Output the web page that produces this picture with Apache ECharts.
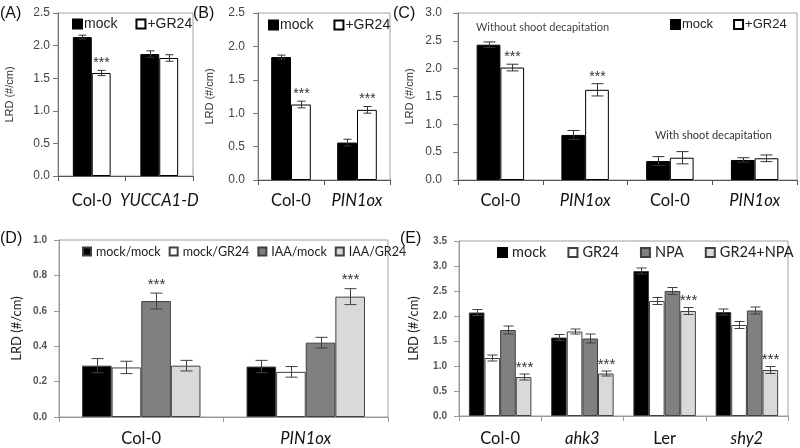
<!DOCTYPE html>
<html><head><meta charset="utf-8">
<script src="https://cdn.jsdelivr.net/npm/echarts@6/dist/echarts.min.js"></script>
<style>html,body{margin:0;padding:0;background:#fff}#c{width:800px;height:448px}</style>
</head><body><div id="c"></div>
<script>
// ---------- Panel A ----------
const catsA = ['Col-0', 'YUCCA1-D'];
const italicA = [false, true];
const mockA = [2.13, 1.87];
const mockErrA = [0.03, 0.05];
const gr24A = [1.58, 1.81];
const gr24ErrA = [0.04, 0.05];
const gr24SigA = ['***', ''];
const ticksA = {min: 0, max: 2.5, interval: 0.5};

// ---------- Panel B ----------
const catsB = ['Col-0', 'PIN1ox'];
const italicB = [false, true];
const mockB = [1.84, 0.56];
const mockErrB = [0.03, 0.05];
const gr24B = [1.13, 1.05];
const gr24ErrB = [0.05, 0.05];
const gr24SigB = ['***', '***'];
const ticksB = {min: 0, max: 2.5, interval: 0.5};

// ---------- Panel C ----------
const catsC = ['Col-0', 'PIN1ox', 'Col-0', 'PIN1ox'];
const italicC = [false, true, false, true];
const mockC = [2.43, 0.81, 0.34, 0.36];
const mockErrC = [0.05, 0.08, 0.08, 0.04];
const gr24C = [2.02, 1.62, 0.40, 0.39];
const gr24ErrC = [0.06, 0.11, 0.11, 0.06];
const gr24SigC = ['***', '***', '', ''];
const ticksC = {min: 0, max: 3.0, interval: 0.5};
const noteC1 = 'Without shoot decapitation';
const noteC2 = 'With shoot decapitation';

// ---------- Panel D ----------
const catsD = ['Col-0', 'PIN1ox'];
const italicD = [false, true];
const mmD = [0.29, 0.285];
const mmErrD = [0.04, 0.035];
const mgD = [0.28, 0.255];
const mgErrD = [0.035, 0.03];
const imD = [0.655, 0.42];
const imErrD = [0.045, 0.03];
const igD = [0.29, 0.68];
const igErrD = [0.03, 0.045];
const imSigD = ['***', ''];
const igSigD = ['', '***'];
const ticksD = {min: 0, max: 1.0, interval: 0.2};

// ---------- Panel E ----------
const catsE = ['Col-0', 'ahk3', 'Ler', 'shy2'];
const italicE = [false, true, false, true];
const mockE = [2.07, 1.57, 2.90, 2.08];
const mockErrE = [0.06, 0.06, 0.06, 0.06];
const gr24E = [1.16, 1.69, 2.30, 1.82];
const gr24ErrE = [0.06, 0.05, 0.07, 0.07];
const npaE = [1.72, 1.55, 2.50, 2.11];
const npaErrE = [0.08, 0.09, 0.07, 0.07];
const gnE = [0.78, 0.85, 2.10, 0.92];
const gnErrE = [0.06, 0.05, 0.07, 0.07];
const gnSigE = ['***', '***', '***', '***'];
const ticksE = {min: 0, max: 3.5, interval: 0.5};

const LAT = 'Lato, "Open Sans", sans-serif';
const ARI = '"Liberation Sans", Arial, sans-serif';

function errSeries(gi, vals, errs, sigs, idx, n, frac, opt) {
  return {
    type: 'custom', xAxisIndex: gi, yAxisIndex: gi, z: 10, silent: true,
    data: vals.map((v, i) => [i, v, errs[i]]),
    renderItem: function (params, api) {
      const ci = api.value(0), v = api.value(1), e = api.value(2);
      const band = api.size([1, 0])[0];
      const w = band * frac;
      const off = (idx - (n - 1) / 2) * w;
      const top = api.coord([ci, v + e]);
      const bot = api.coord([ci, v - e]);
      const x = Math.round(top[0] + off) + 0.5;
      const st = {stroke: opt.color, lineWidth: 1};
      const ch = [
        {type: 'line', shape: {x1: x, y1: top[1], x2: x, y2: bot[1]}, style: st},
        {type: 'line', shape: {x1: x - opt.cap, y1: top[1], x2: x + opt.cap, y2: top[1]}, style: st},
        {type: 'line', shape: {x1: x - opt.cap, y1: bot[1], x2: x + opt.cap, y2: bot[1]}, style: st}
      ];
      const s = sigs ? sigs[params.dataIndex] : '';
      if (s) ch.push({type: 'text', style: {text: s, x: x, y: top[1] - opt.sigGap, align: 'center', verticalAlign: 'bottom', fill: opt.sigColor, font: opt.sigFont}});
      return {type: 'group', children: ch};
    }
  };
}

function barS(gi, name, data, width, color, border) {
  return {type: 'bar', name: name, xAxisIndex: gi, yAxisIndex: gi, data: data, barWidth: width, barGap: '0%',
    itemStyle: {color: color, borderColor: border, borderWidth: 1}, silent: true};
}

function xAx(gi, cats, ital, margin, lineColor) {
  return {type: 'category', gridIndex: gi, data: cats,
    axisLine: {show: true, lineStyle: {color: lineColor, width: 1}},
    axisTick: {show: true, length: 5, lineStyle: {color: lineColor}},
    axisLabel: {margin: margin, interval: 0, formatter: (v, i) => (ital[i] ? '{i|' + v + '}' : '{n|' + v + '}'),
      rich: {n: {fontFamily: LAT, fontSize: 16.5, color: '#111'}, i: {fontFamily: LAT, fontSize: 16.5, fontStyle: 'italic', color: '#111'}}}};
}

function yAx(gi, t, margin, lbl, nameGap, nameStyle, lineColor) {
  return {type: 'value', gridIndex: gi, min: t.min, max: t.max, interval: t.interval,
    axisLine: {show: true, lineStyle: {color: lineColor}},
    axisTick: {show: true, length: 5, lineStyle: {color: lineColor}},
    splitLine: {show: false},
    axisLabel: Object.assign({margin: margin, formatter: v => v.toFixed(1)}, lbl),
    name: 'LRD (#/cm)', nameLocation: 'middle', nameGap: nameGap, nameTextStyle: nameStyle};
}

const lblTop = {fontFamily: ARI, fontSize: 12, color: '#444'};
const lblBot = {fontFamily: ARI, fontSize: 10, fontWeight: 'bold', color: '#555'};
const nmTop = {fontFamily: ARI, fontSize: 11, color: '#333'};
const nmBot = {fontFamily: LAT, fontSize: 13, color: '#222'};

const errTop = {color: '#333', cap: 4, sigGap: 0, sigColor: '#333', sigFont: '14px ' + ARI};
const errTopC = Object.assign({}, errTop, {cap: 6});
const errBot = {color: '#404040', cap: 6, sigGap: 1, sigColor: '#333', sigFont: '15px ' + ARI};
const errBotE = Object.assign({}, errBot, {cap: 5, sigGap: -1});

function legTop(left, top, gap, size) {
  return {left: left, top: top, padding: 0, itemGap: gap, itemWidth: 9, itemHeight: 9, icon: 'rect',
    selectedMode: false, data: ['mock', '+GR24'],
    textStyle: {fontFamily: ARI, fontSize: size, color: '#222', padding: [0, 0, 0, -3]}};
}

const grids = [
  {left: 58, top: 13, width: 135, height: 163},
  {left: 258, top: 13, width: 132, height: 167},
  {left: 458, top: 13, width: 339, height: 167},
  {left: 59, top: 240, width: 329, height: 177},
  {left: 459, top: 241, width: 329, height: 175}
].map(g => Object.assign({show: true, borderColor: '#a0a0a0', borderWidth: 1, backgroundColor: 'transparent'}, g));

const fA = 0.28, fB = 0.30, fC = 0.28, fD = 0.18, fE = 0.19;

const option = {
  animation: false,
  backgroundColor: '#fff',
  grid: grids,
  xAxis: [
    xAx(0, catsA, italicA, 16, '#555'),
    xAx(1, catsB, italicB, 12, '#555'),
    xAx(2, catsC, italicC, 12, '#555'),
    xAx(3, catsD, italicD, 13, '#999'),
    xAx(4, catsE, italicE, 14, '#999')
  ],
  yAxis: [
    yAx(0, ticksA, 8, lblTop, 43, nmTop, '#777'),
    yAx(1, ticksB, 13, lblTop, 43, nmTop, '#777'),
    yAx(2, ticksC, 16, lblTop, 43, nmTop, '#777'),
    yAx(3, ticksD, 12, lblBot, 36, nmBot, '#999'),
    yAx(4, ticksE, 12, lblBot, 39, nmBot, '#999')
  ],
  legend: [
    legTop(72, 17, 18, 14),
    legTop(268, 18, 20, 14),
    legTop(670, 18, 20, 13),
    {left: 82, top: 245, padding: 0, itemGap: 8, itemWidth: 8, itemHeight: 8, icon: 'rect', selectedMode: false,
      data: ['mock/mock', 'mock/GR24', 'IAA/mock', 'IAA/GR24'],
      textStyle: {fontFamily: LAT, fontSize: 12.5, color: '#222'}},
    {left: 497, top: 245, padding: 0, itemGap: 21, itemWidth: 9, itemHeight: 9, icon: 'rect', selectedMode: false,
      data: ['mock', 'GR24', 'NPA', 'GR24+NPA'],
      textStyle: {fontFamily: LAT, fontSize: 14.5, color: '#222'}}
  ],
  graphic: [
    {type: 'text', left: 0, top: 6, style: {text: '(A)', font: '16px ' + ARI, fill: '#111'}},
    {type: 'text', left: 193, top: 6, style: {text: '(B)', font: '16px ' + ARI, fill: '#111'}},
    {type: 'text', left: 393, top: 6, style: {text: '(C)', font: '16px ' + ARI, fill: '#111'}},
    {type: 'text', left: 0, top: 231, style: {text: '(D)', font: '16px ' + ARI, fill: '#111'}},
    {type: 'text', left: 400, top: 231, style: {text: '(E)', font: '16px ' + ARI, fill: '#111'}},
    {type: 'text', left: 476, top: 22, style: {text: noteC1, font: '11px ' + LAT, fill: '#444'}},
    {type: 'text', left: 655, top: 130, style: {text: noteC2, font: '11px ' + LAT, fill: '#333'}}
  ],
  series: [
    barS(0, 'mock', mockA, '28%', '#000', '#000'),
    barS(0, '+GR24', gr24A, '28%', '#fff', '#000'),
    errSeries(0, mockA, mockErrA, null, 0, 2, fA, errTop),
    errSeries(0, gr24A, gr24ErrA, gr24SigA, 1, 2, fA, errTop),

    barS(1, 'mock', mockB, '30%', '#000', '#000'),
    barS(1, '+GR24', gr24B, '30%', '#fff', '#000'),
    errSeries(1, mockB, mockErrB, null, 0, 2, fB, errTop),
    errSeries(1, gr24B, gr24ErrB, gr24SigB, 1, 2, fB, errTop),

    barS(2, 'mock', mockC, '28%', '#000', '#000'),
    barS(2, '+GR24', gr24C, '28%', '#fff', '#000'),
    errSeries(2, mockC, mockErrC, null, 0, 2, fC, errTopC),
    errSeries(2, gr24C, gr24ErrC, gr24SigC, 1, 2, fC, errTopC),

    barS(3, 'mock/mock', mmD, '18%', '#000', '#404040'),
    barS(3, 'mock/GR24', mgD, '18%', '#fff', '#404040'),
    barS(3, 'IAA/mock', imD, '18%', '#808080', '#404040'),
    barS(3, 'IAA/GR24', igD, '18%', '#d9d9d9', '#404040'),
    errSeries(3, mmD, mmErrD, null, 0, 4, fD, errBot),
    errSeries(3, mgD, mgErrD, null, 1, 4, fD, errBot),
    errSeries(3, imD, imErrD, imSigD, 2, 4, fD, errBot),
    errSeries(3, igD, igErrD, igSigD, 3, 4, fD, errBot),

    barS(4, 'mock', mockE, '19%', '#000', '#404040'),
    barS(4, 'GR24', gr24E, '19%', '#fff', '#404040'),
    barS(4, 'NPA', npaE, '19%', '#808080', '#404040'),
    barS(4, 'GR24+NPA', gnE, '19%', '#d9d9d9', '#404040'),
    errSeries(4, mockE, mockErrE, null, 0, 4, fE, errBotE),
    errSeries(4, gr24E, gr24ErrE, null, 1, 4, fE, errBotE),
    errSeries(4, npaE, npaErrE, null, 2, 4, fE, errBotE),
    errSeries(4, gnE, gnErrE, gnSigE, 3, 4, fE, errBotE)
  ]
};

const chart = echarts.init(document.getElementById('c'), null, {renderer: 'canvas'});
chart.setOption(option);
</script>
</body></html>
